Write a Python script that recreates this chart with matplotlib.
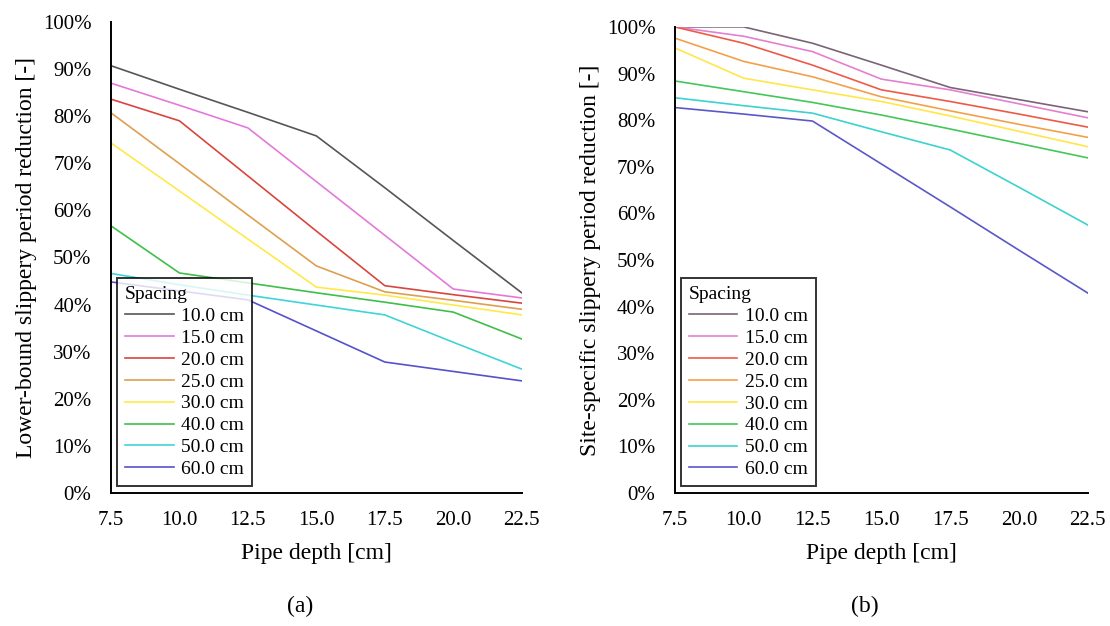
import matplotlib
matplotlib.use("Agg")
import matplotlib.pyplot as plt
from matplotlib.ticker import PercentFormatter

plt.rcParams['font.family'] = ['Liberation Serif', 'DejaVu Serif']

# pipe depth [cm]
depths = [7.5, 10.0, 12.5, 15.0, 17.5, 20.0, 22.5]
spacings = ['10.0 cm', '15.0 cm', '20.0 cm', '25.0 cm', '30.0 cm', '40.0 cm', '50.0 cm', '60.0 cm']

# (a) lower-bound slippery period reduction, %
lower_10 = [90.7, 85.7, 80.8, 75.8, 64.8, 53.6, 42.5]
lower_15 = [87.0, 82.3, 77.5, 66.1, 54.7, 43.3, 41.4]
lower_20 = [83.6, 79.0, 67.3, 55.6, 44.0, 42.1, 40.3]
lower_25 = [80.7, 69.9, 59.0, 48.2, 42.7, 40.9, 39.0]
lower_30 = [74.3, 64.1, 53.9, 43.7, 42.0, 39.9, 37.8]
lower_40 = [56.7, 46.7, 44.6, 42.5, 40.5, 38.4, 32.7]
lower_50 = [46.6, 44.2, 42.0, 39.9, 37.8, 32.0, 26.3]
lower_60 = [44.8, 42.9, 41.0, 34.4, 27.8, 25.8, 23.8]

# (b) site-specific slippery period reduction, %
site_10 = [100.0, 100.0, 96.5, 91.8, 87.0, 84.4, 81.8]
site_15 = [100.0, 98.0, 94.7, 88.8, 86.5, 83.5, 80.5]
site_20 = [100.0, 96.5, 91.8, 86.5, 84.0, 81.3, 78.5]
site_25 = [97.6, 92.6, 89.3, 85.0, 82.0, 79.1, 76.3]
site_30 = [95.5, 89.0, 86.5, 84.0, 80.9, 77.6, 74.3]
site_40 = [88.4, 86.1, 83.8, 81.1, 78.1, 75.0, 71.9]
site_50 = [84.8, 83.1, 81.5, 77.5, 73.6, 65.6, 57.5]
site_60 = [82.7, 81.3, 79.8, 70.6, 61.4, 52.1, 42.9]

lower_series = [lower_10, lower_15, lower_20, lower_25, lower_30, lower_40, lower_50, lower_60]
site_series = [site_10, site_15, site_20, site_25, site_30, site_40, site_50, site_60]

colors_a = ['#5a5458', '#e37ad8', '#d9463e', '#dea050', '#ffe94a', '#3fbf4a', '#3fd4d8', '#5552cc']
colors_b = ['#7a6478', '#e57fd0', '#ee5a48', '#f4a04a', '#ffe64a', '#45c65a', '#3cd2cf', '#5a58c8']


def draw_panel(ax, series, colors, ylabel):
    for vals, col, lab in zip(series, colors, spacings):
        ax.plot(depths, vals, color=col, lw=1.2, label=lab)
    ax.set_xlim(7.5, 22.5)
    ax.set_ylim(0, 100)
    ax.set_xticks(depths)
    ax.set_xticklabels([f'{d:.1f}' for d in depths])
    ax.set_yticks(range(0, 101, 10))
    ax.yaxis.set_major_formatter(PercentFormatter(100, decimals=0))
    ax.tick_params(length=0, labelsize=15)
    ax.tick_params(axis='x', pad=13)
    ax.tick_params(axis='y', pad=14)
    for s in ['top', 'right']:
        ax.spines[s].set_visible(False)
    for s in ['left', 'bottom']:
        ax.spines[s].set_linewidth(1.4)
    ax.set_xlabel('Pipe depth [cm]', fontsize=17, labelpad=9)
    ax.set_ylabel(ylabel, fontsize=17, labelpad=4)
    leg = ax.legend(title='Spacing', loc='lower left', bbox_to_anchor=(0.015, 0.015),
                    borderaxespad=0, fontsize=14, title_fontsize=14, frameon=True,
                    fancybox=False, edgecolor='black', handlelength=2.5,
                    labelspacing=0.22, handletextpad=0.4, alignment='left',
                    borderpad=0.4)
    leg.get_frame().set_linewidth(1.4)


fig = plt.figure(figsize=(11.1, 6.26), dpi=100)
ax1 = fig.add_axes([0.100, 0.2125, 0.370, 0.7525])
ax2 = fig.add_axes([0.608, 0.2125, 0.372, 0.7445])

draw_panel(ax1, lower_series, colors_a, 'Lower-bound slippery period reduction [-]')
draw_panel(ax2, site_series, colors_b, 'Site-specific slippery period reduction [-]')

fig.text(0.27, 0.022, '(a)', ha='center', fontsize=17)
fig.text(0.779, 0.022, '(b)', ha='center', fontsize=17)

fig.savefig('out.png', dpi=100)
